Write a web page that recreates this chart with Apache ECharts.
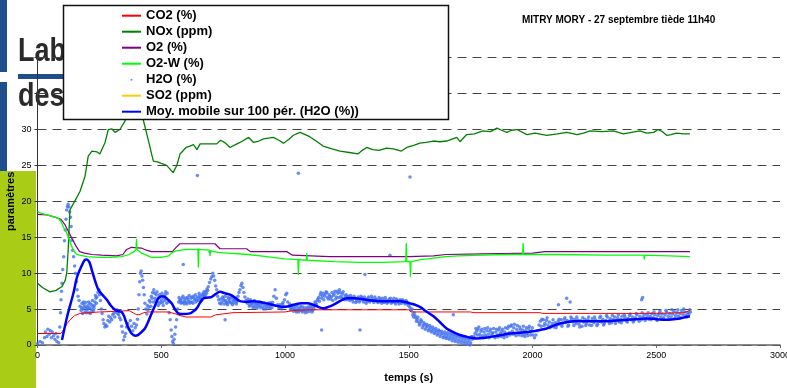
<!DOCTYPE html>
<html>
<head>
<meta charset="utf-8">
<script src="https://cdn.jsdelivr.net/npm/echarts@6/dist/echarts.min.js"></script>
<style>
  html, body { margin: 0; padding: 0; background: #fff; }
  #chart { width: 787px; height: 388px; }
</style>
</head>
<body>
<div id="chart"></div>
<script>
// temps (s), valeur
const co2Pts = [[0,1.6],[95,1.6],[105,2.1],[120,3.0],[131,3.5],[150,4.1],[172,4.4],[250,4.6],[330,4.7],[370,4.8],[395,4.3],[410,4.2],[430,4.5],[445,4.6],[530,4.6],[560,4.3],[576,4.1],[600,3.9],[700,3.9],[720,4.2],[790,4.5],[1000,4.6],[1034,4.8],[1100,4.9],[1500,4.9],[1510,4.6],[1750,4.6],[1760,4.5],[2030,4.5],[2040,4.4],[2500,4.4],[2610,4.5],[2636,4.8]];

const noxPts = [[0,8.6],[20,8.0],[50,7.4],[75,7.6],[98,8.1],[112,9.0],[118,10],[124,13.2],[131,18.8],[150,20.0],[172,21.4],[192,23.5],[205,26.3],[220,27.0],[240,26.9],[252,26.6],[273,28.2],[286,30.0],[300,30.1],[313,29.6],[333,30.0],[354,31.2],[366,32.5],[380,33],[400,33.5],[420,32.5],[427,31.4],[448,28.5],[468,25.6],[485,25.5],[500,25.3],[522,25.0],[548,24.0],[563,25.0],[576,26.6],[600,27.5],[616,27.7],[630,27.9],[644,27.2],[657,28.0],[700,28.0],[724,28.0],[740,28.5],[760,28.1],[778,27.5],[800,27.9],[818,28.2],[853,28.9],[873,28.2],[895,28.4],[913,28.7],[953,28.9],[975,28.5],[994,28.1],[1015,28.6],[1034,29.2],[1061,29.6],[1100,29.0],[1130,28.3],[1154,27.7],[1190,27.3],[1222,27.0],[1260,26.8],[1295,26.6],[1312,27.1],[1330,27.5],[1355,27.2],[1380,27.1],[1410,27.4],[1438,27.3],[1470,27.0],[1492,27.5],[1520,27.8],[1545,28.1],[1570,28.2],[1600,28.4],[1625,28.3],[1653,28.4],[1694,28.9],[1707,28.3],[1734,29.3],[1765,29.4],[1800,29.8],[1830,29.7],[1856,30.2],[1875,29.9],[1896,29.6],[1915,29.9],[1937,30.0],[1977,29.3],[2010,29.5],[2058,29.2],[2100,29.4],[2139,29.6],[2180,29.3],[2206,29.5],[2233,29.8],[2280,29.7],[2327,29.8],[2367,29.4],[2400,29.6],[2434,29.8],[2461,29.5],[2490,29.6],[2507,30.0],[2525,29.7],[2542,29.2],[2560,29.3],[2582,29.5],[2610,29.4],[2636,29.4]];

const o2Pts = [[0,18.2],[40,18.1],[70,17.8],[95,17.5],[110,16.8],[125,15.8],[140,14.8],[155,13.8],[170,13.0],[190,12.8],[220,12.6],[260,12.5],[320,12.4],[345,12.6],[360,13.3],[380,13.6],[420,13.5],[440,13.2],[460,13.0],[520,13.0],[545,13.0],[560,13.6],[575,14.1],[690,14.1],[717,14.1],[737,13.4],[845,13.4],[860,13.0],[1007,13.0],[1030,12.5],[1180,12.3],[1500,12.3],[1600,12.4],[1650,12.6],[1800,12.7],[2000,12.8],[2050,13.0],[2300,13.0],[2500,13.0],[2636,13.0]];

const o2wPts = [[0,18.6],[10,18.4],[30,18.2],[50,18.0],[70,17.8],[85,17.6],[95,17.2],[105,16.4],[115,15.8],[125,15.0],[135,14.0],[145,13.2],[155,12.7],[170,12.5],[200,12.3],[250,12.2],[300,12.2],[340,12.3],[370,12.6],[390,13.0],[398,13.3],[400,14.8],[402,13.3],[420,12.8],[440,12.5],[460,12.2],[500,12.2],[530,12.4],[545,12.9],[560,13.1],[600,13.3],[648,13.3],[650,10.8],[652,13.3],[695,13.2],[697,12.4],[699,13.1],[730,12.9],[770,12.8],[850,12.6],[900,12.4],[950,12.2],[1000,12.0],[1052,11.9],[1054,9.8],[1056,11.9],[1086,11.8],[1088,12.8],[1090,11.8],[1200,11.6],[1300,11.5],[1400,11.5],[1488,11.6],[1490,14.2],[1492,11.6],[1505,11.6],[1507,9.5],[1509,11.6],[1550,11.9],[1600,12.1],[1650,12.3],[1700,12.4],[1800,12.5],[1900,12.6],[1960,12.6],[1962,14.2],[1964,12.6],[2100,12.6],[2300,12.5],[2450,12.5],[2452,11.9],[2454,12.5],[2550,12.4],[2636,12.3]];

const h2oPts = [[0,0.2],[10,0.5],[20,0.3],[28,1.0],[32,1.8],[38,1.2],[42,2.2],[47,1.5],[52,2.0],[56,1.0],[60,1.8],[65,1.3],[70,0.8],[74,1.6],[78,0.5],[82,1.1],[86,0.3],[90,2.5],[93,4.5],[95,6.3],[97,7.5],[99,8.6],[102,10.5],[106,12.3],[109,14.5],[112,16],[115,17.5],[118,18.8],[121,19.3],[124,19.6],[127,19.2],[130,18.5],[133,17.8],[136,16.5],[139,14.6],[142,13.2],[146,12.3],[150,11],[153,10],[157,8.8],[160,7.7],[164,6.8],[168,6.2],[172,5.4],[176,4.8],[180,5.8],[184,5.0],[188,5.6],[192,4.6],[196,5.3],[200,4.9],[204,5.5],[208,4.5],[212,5.8],[216,5.0],[220,4.7],[224,5.4],[228,5.1],[232,6.0],[236,6.5],[240,6.7],[244,7.3],[248,7.7],[251,7.0],[254,6.2],[258,5.0],[261,4.4],[265,3.5],[268,3.0],[272,2.5],[276,2.8],[280,2.6],[284,3.4],[288,4.0],[292,3.2],[296,3.8],[300,3.5],[304,4.2],[308,4.4],[312,3.9],[316,4.6],[320,4.9],[324,4.4],[328,4.2],[332,3.8],[336,3.5],[340,2.6],[344,1.8],[348,0.7],[352,1.2],[356,1.6],[360,2.5],[365,3.0],[370,2.2],[375,3.4],[380,2.6],[385,2.0],[390,3.0],[395,2.4],[400,2.8],[404,3.6],[407,5.0],[410,7.0],[413,8.8],[416,10.0],[419,10.3],[422,9.6],[425,9.0],[428,8.0],[431,7.0],[434,5.8],[438,5.0],[442,4.3],[446,4.9],[450,5.3],[455,6.0],[460,6.8],[465,7.3],[470,7.7],[475,6.5],[480,7.0],[485,6.0],[490,6.6],[495,5.8],[500,6.3],[505,5.9],[510,6.6],[515,7.0],[520,6.4],[524,7.2],[528,6.0],[532,4.5],[536,3.5],[540,2.1],[543,1.2],[546,0.5],[549,0.2],[552,0.8],[555,1.5],[558,2.5],[562,3.5],[566,5.0],[570,6.0],[575,6.3],[580,5.8],[585,6.5],[590,6.0],[595,6.2],[600,5.9],[605,6.6],[610,6.1],[615,5.8],[620,6.5],[625,6.0],[630,6.8],[635,6.3],[640,6.0],[645,6.7],[650,6.2],[655,6.9],[660,6.4],[665,7.0],[670,7.2],[675,6.8],[680,7.5],[685,7.8],[690,8.1],[695,8.7],[700,9.2],[704,9.5],[708,10.0],[712,9.6],[716,9.0],[720,8.2],[724,7.7],[728,6.8],[732,6.3],[736,5.8],[740,6.4],[745,6.0],[750,6.5],[755,5.7],[760,6.2],[765,5.8],[770,6.6],[775,6.1],[780,6.5],[785,5.8],[790,6.2],[795,5.9],[800,6.4],[805,6.0],[810,6.8],[814,7.3],[818,7.7],[822,8.3],[826,8.6],[830,8.0],[834,7.3],[838,6.7],[843,6.2],[848,5.8],[853,6.1],[858,5.6],[863,6.0],[868,5.5],[873,5.9],[878,5.3],[884,5.8],[890,5.4],[896,6.0],[902,5.2],[908,5.7],[914,5.0],[920,5.5],[926,5.3],[932,5.8],[938,5.1],[944,5.6],[950,5.9],[955,6.8],[960,7.7],[965,6.5],[970,5.6],[975,5.2],[980,5.6],[986,5.0],[992,5.9],[998,6.3],[1003,7.0],[1007,7.2],[1011,6.0],[1016,5.4],[1022,4.9],[1028,5.2],[1034,4.7],[1040,5.3],[1046,4.6],[1052,5.1],[1058,4.8],[1064,5.4],[1070,4.6],[1076,5.0],[1082,4.5],[1088,4.9],[1094,5.3],[1100,4.7],[1106,5.2],[1112,4.8],[1118,5.4],[1124,5.8],[1130,6.2],[1136,6.6],[1142,7.0],[1148,6.5],[1154,7.2],[1160,6.8],[1166,7.4],[1172,6.6],[1178,7.0],[1184,6.4],[1190,7.3],[1196,6.9],[1202,7.5],[1208,6.7],[1214,7.2],[1220,7.7],[1226,6.8],[1232,7.1],[1238,6.5],[1244,6.9],[1250,6.3],[1256,6.8],[1262,6.2],[1268,6.6],[1275,6.0],[1282,6.5],[1289,6.1],[1296,6.7],[1303,6.2],[1310,6.6],[1317,6.0],[1324,6.4],[1331,6.1],[1338,6.7],[1345,6.2],[1352,6.5],[1359,5.9],[1366,6.4],[1373,6.0],[1380,6.6],[1387,6.1],[1394,6.5],[1401,5.9],[1408,6.3],[1415,6.0],[1422,6.4],[1429,5.8],[1436,6.2],[1443,5.9],[1450,6.4],[1457,6.0],[1464,6.3],[1471,5.8],[1478,6.1],[1485,5.7],[1492,6.0],[1498,5.5],[1504,5.3],[1510,4.8],[1516,4.2],[1522,4.5],[1528,3.8],[1534,3.6],[1540,3.2],[1546,3.0],[1552,3.3],[1558,2.7],[1564,2.9],[1570,2.5],[1576,2.6],[1582,2.2],[1588,2.4],[1594,2.0],[1600,2.2],[1606,1.8],[1612,2.0],[1618,1.6],[1624,1.9],[1630,1.5],[1636,1.6],[1642,1.2],[1648,1.5],[1654,1.1],[1660,1.4],[1666,1.0],[1672,1.3],[1678,0.9],[1684,1.2],[1690,0.8],[1696,1.1],[1702,0.7],[1708,1.0],[1714,0.6],[1720,0.9],[1726,0.5],[1732,0.8],[1738,0.4],[1744,0.7],[1750,0.3],[1756,0.8],[1762,1.2],[1768,1.6],[1774,1.9],[1780,2.2],[1786,1.5],[1792,1.9],[1798,1.3],[1804,1.8],[1810,1.4],[1816,2.0],[1822,1.5],[1828,1.9],[1834,1.3],[1840,1.7],[1846,1.2],[1852,1.8],[1858,1.4],[1864,2.1],[1870,1.6],[1876,1.9],[1882,1.3],[1888,1.8],[1894,1.5],[1900,2.3],[1906,1.7],[1912,2.6],[1918,1.9],[1924,2.4],[1930,1.6],[1936,2.2],[1942,1.8],[1948,2.5],[1954,1.7],[1960,2.1],[1966,1.5],[1972,2.0],[1978,1.6],[1984,2.3],[1990,1.8],[1996,2.0],[2002,1.4],[2008,1.0],[2014,1.4],[2020,2.0],[2026,2.8],[2032,3.3],[2038,3.6],[2044,3.5],[2050,3.0],[2056,3.4],[2062,2.8],[2068,3.2],[2074,2.6],[2080,3.0],[2086,2.5],[2092,3.1],[2098,2.7],[2104,3.3],[2110,2.9],[2116,3.5],[2122,3.0],[2128,3.6],[2134,3.1],[2140,3.4],[2146,2.8],[2152,3.3],[2158,3.7],[2164,3.2],[2170,3.6],[2176,3.0],[2182,3.5],[2188,2.9],[2194,3.4],[2200,2.6],[2206,3.2],[2212,3.6],[2218,3.0],[2224,3.5],[2230,2.8],[2236,3.3],[2242,3.7],[2248,3.1],[2254,3.5],[2260,2.7],[2266,3.3],[2272,3.8],[2278,3.2],[2284,3.6],[2290,3.0],[2296,3.4],[2302,3.9],[2308,3.3],[2314,3.7],[2320,3.1],[2326,3.5],[2332,3.9],[2338,3.4],[2344,3.8],[2350,3.2],[2356,3.6],[2362,4.0],[2368,3.5],[2374,3.9],[2380,3.3],[2386,3.7],[2392,4.1],[2398,3.5],[2404,3.9],[2410,3.4],[2416,3.8],[2422,4.2],[2428,3.6],[2434,4.0],[2440,3.5],[2446,3.9],[2452,4.2],[2458,3.7],[2464,4.1],[2470,3.6],[2476,4.0],[2482,4.4],[2488,3.8],[2494,4.2],[2500,3.7],[2506,4.1],[2512,4.4],[2518,3.9],[2524,4.3],[2530,3.8],[2536,4.2],[2542,4.6],[2548,4.0],[2554,4.4],[2560,3.9],[2566,4.3],[2572,4.7],[2578,4.1],[2584,4.5],[2590,4.0],[2596,4.4],[2602,4.8],[2608,4.2],[2614,4.6],[2620,4.1],[2626,4.5],[2632,4.3],[2638,4.6],
  // nuage, deuxième passage
  [178,5.2],[182,4.4],[186,6.0],[190,5.3],[194,5.9],[198,4.5],[202,5.1],[206,6.0],[210,5.2],[214,4.4],[218,5.6],[222,6.2],[226,4.8],[230,5.5],[234,6.9],[238,5.8],
  [444,5.5],[452,6.2],[458,5.4],[463,6.5],[468,6.0],[473,7.2],[478,6.2],[483,7.4],[488,5.5],[493,7.0],[498,6.0],[503,7.2],[508,5.5],[513,6.2],[518,7.4],[522,5.8],
  [572,6.6],[578,6.2],[583,5.9],[588,6.8],[593,5.7],[598,6.5],[603,5.7],[608,6.4],[613,6.9],[618,6.0],[623,6.7],[628,5.8],[633,6.5],[638,7.0],[643,6.2],[648,6.5],[653,7.2],[658,6.6],[663,6.2],[668,6.9],[673,7.4],[678,7.0],[683,7.2],[688,7.6],
  [742,5.7],[748,6.7],[753,6.2],[758,6.8],[763,6.0],[768,5.6],[773,6.4],[778,5.9],[783,6.7],[788,5.6],[793,6.5],[798,6.2],[803,5.7],[808,6.2],[850,6.4],[856,5.4],[861,6.3],[866,5.8],[871,5.2],[876,6.2],[881,5.6],[887,5.1],[893,5.7],[899,5.5],[905,5.9],[911,5.3],[917,5.8],[923,5.0],[929,5.6],[935,5.4],[941,5.9],[947,5.2],[983,5.3],[989,5.7],[995,5.4],
  [1019,5.7],[1025,5.0],[1031,5.5],[1037,5.0],[1043,4.8],[1049,5.5],[1055,4.6],[1061,5.1],[1067,4.8],[1073,5.3],[1079,4.8],[1085,5.2],[1091,4.6],[1097,5.0],[1103,5.4],[1109,4.6],[1115,5.1],
  [1121,6.0],[1127,5.6],[1133,6.4],[1139,6.1],[1145,7.3],[1151,6.9],[1157,6.3],[1163,7.1],[1169,7.3],[1175,6.4],[1181,6.8],[1187,6.7],[1193,6.2],[1199,7.1],[1205,6.4],[1211,7.5],[1217,6.6],[1223,7.3],[1229,6.5],[1235,7.4],[1241,6.3],[1247,7.0],[1253,6.6],[1259,6.4],[1265,6.9],[1272,6.3],[1279,6.8],[1286,5.9],[1293,6.4],[1300,6.0],[1307,6.8],[1314,6.3],[1321,6.7],[1328,5.8],[1335,6.5],[1342,6.0],[1349,6.8],[1356,6.2],[1363,6.7],[1370,6.3],[1377,5.9],[1384,6.4],[1391,5.8],[1398,6.2],[1405,6.6],[1412,5.8],[1419,6.2],[1426,6.5],[1433,6.0],[1440,6.5],[1447,5.7],[1454,6.2],[1461,5.7],[1468,6.2],[1475,6.3],[1482,5.9],[1489,6.2],[1495,5.8],
  [1501,5.8],[1507,4.9],[1513,5.0],[1519,3.9],[1525,4.1],[1531,3.3],[1537,3.9],[1543,2.8],[1549,3.5],[1555,2.4],[1561,3.1],[1567,2.2],[1573,2.9],[1579,2.0],[1585,2.7],[1591,1.8],[1597,2.5],[1603,1.6],[1609,2.3],[1615,1.4],[1621,2.1],[1627,1.2],[1633,1.9],[1639,1.0],[1645,1.8],[1651,0.9],[1657,1.7],[1663,0.8],[1669,1.6],[1675,0.6],[1681,1.5],[1687,0.5],[1693,1.4],[1699,0.4],[1705,1.3],[1711,0.3],[1717,1.2],[1723,0.2],[1729,1.1],[1735,0.1],[1741,1.0],[1747,0.0],[1753,1.2],
  [1765,1.0],[1771,2.3],[1777,1.4],[1783,2.5],[1789,1.1],[1795,2.2],[1801,1.0],[1807,2.3],[1813,1.1],[1819,2.4],[1825,1.0],[1831,2.2],[1837,1.6],[1843,2.3],[1849,1.0],[1855,2.2],[1861,1.1],[1867,2.4],[1873,1.2],[1879,2.2],[1885,1.0],[1891,2.4],[1897,1.2],[1903,2.6],[1909,1.4],[1915,2.8],[1921,1.5],[1927,2.9],[1933,1.3],[1939,2.7],[1945,1.4],[1951,2.2],[1957,1.3],[1963,2.6],[1969,1.2],[1975,2.4],[1981,1.3],[1987,2.6],[1993,1.4],[1999,2.4],
  [2035,2.6],[2047,2.7],[2059,3.8],[2071,2.4],[2083,3.5],[2095,2.4],[2107,3.6],[2119,2.6],[2131,3.8],[2143,2.6],[2155,3.9],[2167,2.7],[2179,3.9],[2191,2.5],[2203,3.8],[2215,2.7],[2227,3.9],[2239,2.7],[2251,3.9],[2263,2.9],[2275,4.0],[2287,2.8],[2299,4.1],[2311,3.0],[2323,4.1],[2335,3.0],[2347,4.2],[2359,3.1],[2371,4.2],[2383,3.2],[2395,4.3],[2407,3.2],[2419,4.4],[2431,3.3],[2443,4.5],[2455,3.4],[2467,4.5],[2479,3.5],[2491,4.6],[2503,3.4],[2515,4.7],[2527,3.6],[2539,4.8],[2551,3.6],[2563,4.9],[2575,3.7],[2587,4.9],[2599,3.8],[2611,5.0],[2623,3.9],[2635,4.9],
  // points isolés
  [589,11.2],[646,23.6],[697,13.0],[758,3.5],[1054,23.9],[1148,2.1],[1303,2.1],[1323,9.8],[1424,12.5],[1505,23.4],[1680,4.2],[2105,5.6],[2138,6.5],[2152,6.0],[2441,6.3],[2445,6.6]];

const so2Pts = [];

const mobilePts = [[99,0.7],[120,4.0],[145,7.2],[160,9.5],[178,11.0],[190,11.8],[199,11.9],[210,11.5],[219,10.5],[232,9.0],[246,7.7],[262,7.0],[280,6.3],[296,5.5],[313,4.9],[328,4.7],[340,4.6],[350,4.0],[360,3.0],[370,2.2],[380,1.6],[395,1.3],[407,1.4],[420,1.8],[434,2.3],[448,3.3],[461,4.4],[475,5.5],[488,6.5],[502,6.8],[515,6.7],[528,6.3],[542,5.8],[555,5.0],[569,4.4],[590,4.3],[616,4.4],[630,4.7],[643,5.1],[657,5.9],[670,6.5],[690,6.6],[704,6.7],[720,7.1],[737,7.4],[758,7.2],[778,7.0],[798,6.6],[818,6.1],[845,6.0],[873,6.1],[900,6.0],[926,5.8],[960,5.5],[993,5.3],[1015,5.4],[1034,5.6],[1067,5.8],[1090,5.8],[1114,5.6],[1135,5.3],[1155,5.1],[1175,5.3],[1195,5.6],[1222,6.1],[1249,6.5],[1280,6.5],[1310,6.4],[1350,6.2],[1397,6.1],[1440,6.1],[1465,6.1],[1485,6.0],[1505,5.8],[1525,5.6],[1545,5.3],[1570,4.7],[1600,4.0],[1625,3.2],[1653,2.3],[1680,1.8],[1707,1.4],[1740,1.1],[1774,0.9],[1810,1.0],[1842,1.2],[1875,1.4],[1909,1.6],[1950,1.7],[2003,1.9],[2030,2.1],[2057,2.3],[2085,2.7],[2111,3.0],[2140,3.2],[2165,3.3],[2200,3.3],[2232,3.3],[2270,3.3],[2300,3.3],[2340,3.4],[2380,3.5],[2420,3.6],[2461,3.7],[2500,3.6],[2542,3.5],[2570,3.6],[2596,3.7],[2620,3.9],[2636,4.0]];

const seriesNames = ["CO2 (%)", "NOx (ppm)", "O2 (%)", "O2-W (%)", "H2O (%)", "SO2 (ppm)", "Moy. mobile sur 100 pér. (H2O (%))"];
const titleText = "MITRY MORY - 27 septembre tiède 11h40";

const chart = echarts.init(document.getElementById("chart"));

function lineSerie(name, data, color, width) {
  return {
    name, type: "line", data, symbol: "none", legendIcon: "rect", animation: false,
    lineStyle: { color, width }, itemStyle: { color },
  };
}

chart.setOption({
  animation: false,
  textStyle: { fontFamily: "Arial, Liberation Sans, sans-serif" },
  title: {
    text: titleText, left: 517, top: 10,
    textStyle: { fontSize: 10, fontWeight: "bold", color: "#000" },
  },
  grid: { left: 37.5, right: 7, top: 57.7, bottom: 43, containLabel: false, outerBoundsMode: "none" },
  legend: {
    orient: "vertical", left: 121, top: 7.7, z: 10,
    itemWidth: 19, itemHeight: 2, itemGap: 0, padding: 0,
    selectedMode: false, data: seriesNames,
    textStyle: { fontSize: 13, fontWeight: "bold", color: "#000", lineHeight: 16 },
  },
  graphic: [
    { type: "rect", z: -1, shape: { x: 0, y: 0, width: 7, height: 72 }, style: { fill: "#1f4e8c" } },
    { type: "rect", z: -1, shape: { x: 0, y: 82, width: 7, height: 89 }, style: { fill: "#1f4e8c" } },
    { type: "rect", z: -1, shape: { x: 0, y: 171, width: 36, height: 217 }, style: { fill: "#a9cc16" } },
    { type: "text", z: -1, x: 18, y: 36, scaleY: 1.2,
      style: { text: "Labo", fill: "#2a2a2a", font: "bold 27px 'Liberation Sans Narrow', Arial", textShadowColor: "#9a9a9a", textShadowOffsetX: 2, textShadowOffsetY: 2 } },
    { type: "rect", z: -1, shape: { x: 18, y: 74, width: 46, height: 5 }, style: { fill: "#1f4e8c" } },
    { type: "text", z: -1, x: 18, y: 81, scaleY: 1.2,
      style: { text: "des P", fill: "#2a2a2a", font: "bold 27px 'Liberation Sans Narrow', Arial", textShadowColor: "#9a9a9a", textShadowOffsetX: 2, textShadowOffsetY: 2 } },
    { type: "rect", z: 9, shape: { x: 63.5, y: 5.5, width: 385, height: 114 }, style: { fill: "#fff", stroke: "#111", lineWidth: 1.5 } },
  ],
  xAxis: {
    type: "value", min: 0, max: 3000, interval: 500,
    name: "temps (s)", nameLocation: "middle", nameGap: 27, nameMoveOverlap: false,
    nameTextStyle: { fontSize: 11, fontWeight: "bold", color: "#000" },
    axisLine: { lineStyle: { color: "#666", width: 1.5 } },
    axisTick: { show: true, length: 3, lineStyle: { color: "#666" } },
    axisLabel: { fontSize: 9, color: "#000", margin: 6, formatter: (v) => String(v) },
    splitLine: { show: false },
  },
  yAxis: {
    type: "value", min: 0, max: 40, interval: 5,
    name: "paramètres", nameLocation: "middle", nameGap: 21, nameMoveOverlap: false,
    nameTextStyle: { fontSize: 11, fontWeight: "bold", color: "#000" },
    axisLine: { show: true, lineStyle: { color: "#333" } },
    axisTick: { show: true, length: 3, lineStyle: { color: "#333" } },
    axisLabel: { fontSize: 9, color: "#000", margin: 6, formatter: (v) => (v > 30 ? "" : String(v)) },
    splitLine: { lineStyle: { color: "#444", type: [9, 6], width: 1 } },
  },
  series: [
    lineSerie(seriesNames[0], co2Pts, "#ff0000", 1),
    lineSerie(seriesNames[1], noxPts, "#008000", 1.3),
    lineSerie(seriesNames[2], o2Pts, "#800080", 1.2),
    lineSerie(seriesNames[3], o2wPts, "#00ff00", 1.3),
    {
      name: seriesNames[4], type: "scatter", data: h2oPts, animation: false,
      symbol: "circle", symbolSize: 3.5, itemStyle: { color: "#4272f0" },
    },
    lineSerie(seriesNames[5], so2Pts, "#ffcc00", 1),
    Object.assign(lineSerie(seriesNames[6], mobilePts, "#0000ff", 2.5), { smooth: 0.3 }),
  ],
});
</script>
</body>
</html>
